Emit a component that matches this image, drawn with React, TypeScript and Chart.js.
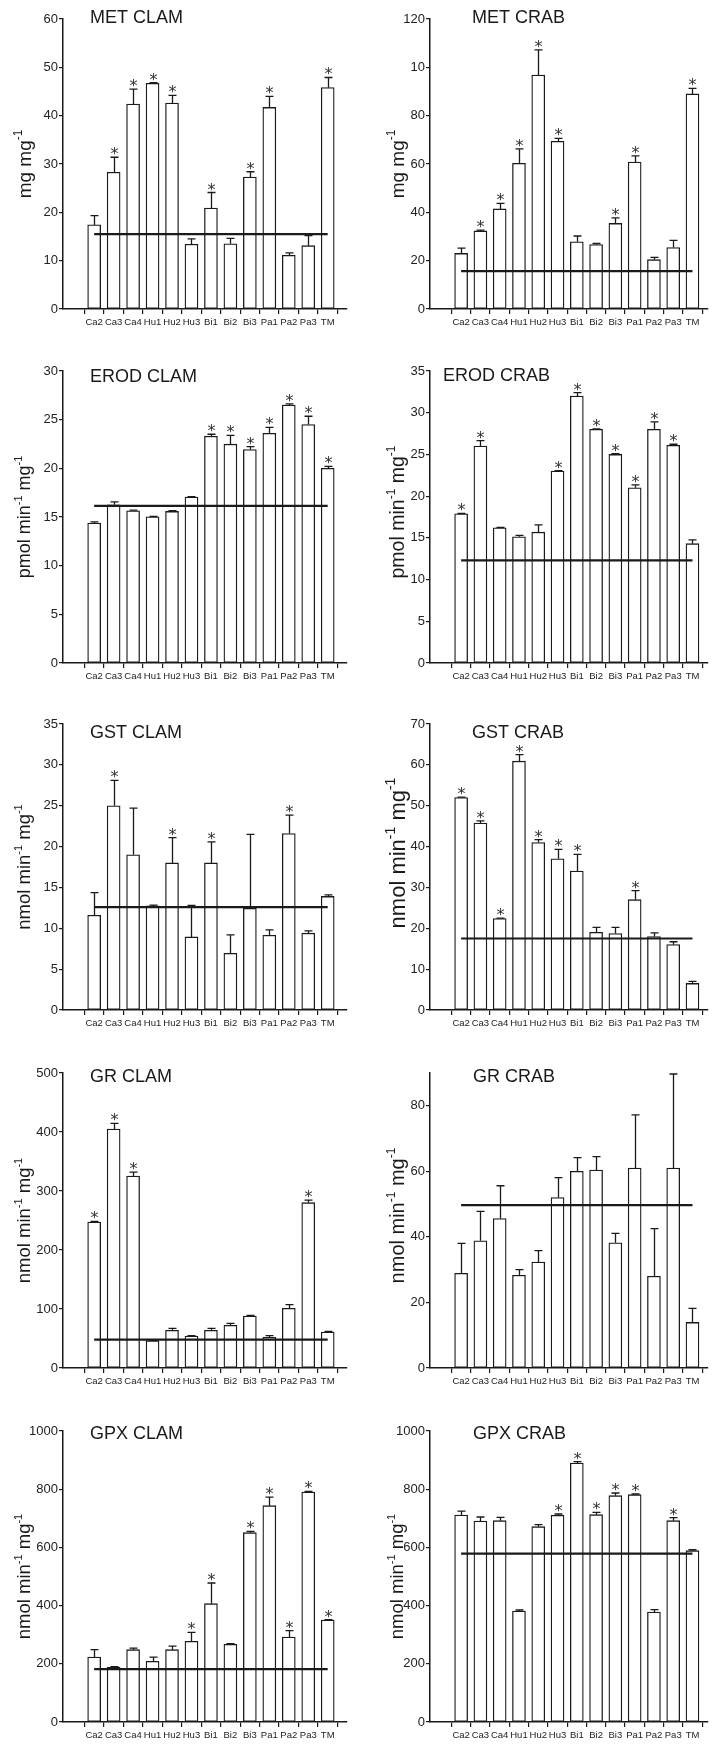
import React, { useEffect, useRef } from "react";
import { Chart, registerables } from "chart.js";

Chart.register(...registerables);

const categories = ["Ca2", "Ca3", "Ca4", "Hu1", "Hu2", "Hu3", "Bi1", "Bi2", "Bi3", "Pa1", "Pa2", "Pa3", "TM"];

// MET CLAM
const metClamMean = [17.4, 28.3, 42.4, 46.7, 42.6, 13.4, 20.9, 13.5, 27.3, 41.7, 11.1, 13.1, 45.8];
const metClamErr = [1.9, 3.1, 3.1, 0.15, 1.6, 1.1, 3.2, 1.1, 1.1, 2.3, 0.5, 2.1, 2.1];
const metClamSig = [0, 1, 1, 1, 1, 0, 1, 0, 1, 1, 0, 0, 1];
const metClamRef = 15.5;
const metClamTicks = [0, 10, 20, 30, 40, 50, 60];
const metClamTickLabels = ["0", "10", "20", "30", "40", "50", "60"];

// MET CRAB
const metCrabMean = [23.0, 32.3, 41.4, 60.3, 96.8, 69.4, 27.8, 26.7, 35.4, 60.8, 20.4, 25.4, 89.0];
const metCrabErr = [2.2, 0.3, 2.3, 6.0, 10.4, 1.2, 2.4, 0.4, 2.3, 2.6, 1.0, 3.0, 2.3];
const metCrabSig = [0, 1, 1, 1, 1, 1, 0, 0, 1, 1, 0, 0, 1];
const metCrabRef = 15.7;
const metCrabTicks = [0, 20, 40, 60, 80, 100, 120];
const metCrabTickLabels = ["0", "20", "40", "60", "80", "10", "120"];

// EROD CLAM
const erodClamMean = [14.37, 16.25, 15.63, 15.02, 15.57, 17.04, 23.3, 22.48, 21.93, 23.6, 26.5, 24.5, 20.0];
const erodClamErr = [0.13, 0.3, 0.07, 0.05, 0.08, 0.04, 0.2, 0.9, 0.3, 0.6, 0.12, 0.85, 0.2];
const erodClamSig = [0, 0, 0, 0, 0, 0, 1, 1, 1, 1, 1, 1, 1];
const erodClamRef = 16.15;
const erodClamTicks = [0, 5, 10, 15, 20, 25, 30];
const erodClamTickLabels = ["0", "5", "10", "15", "20", "25", "30"];

// EROD CRAB
const erodCrabMean = [17.88, 26.0, 16.2, 15.12, 15.68, 23.0, 32.0, 28.0, 25.0, 21.0, 28.0, 26.1, 14.3];
const erodCrabErr = [0.05, 0.65, 0.05, 0.18, 0.88, 0.05, 0.4, 0.05, 0.08, 0.35, 0.9, 0.12, 0.46];
const erodCrabSig = [1, 1, 0, 0, 0, 1, 1, 1, 1, 1, 1, 1, 0];
const erodCrabRef = 12.3;
const erodCrabTicks = [0, 5, 10, 15, 20, 25, 30, 35];
const erodCrabTickLabels = ["0", "5", "10", "15", "20", "25", "30", "35"];

// GST CLAM
const gstClamMean = [11.6, 25.0, 19.0, 12.74, 18.0, 8.94, 18.0, 6.94, 12.45, 9.15, 21.6, 9.4, 13.9];
const gstClamErr = [2.77, 3.1, 5.7, 0.1, 3.1, 3.86, 2.58, 2.25, 9.05, 0.65, 2.25, 0.28, 0.2];
const gstClamSig = [0, 1, 0, 0, 1, 0, 1, 0, 0, 0, 1, 0, 0];
const gstClamRef = 12.6;
const gstClamTicks = [0, 5, 10, 15, 20, 25, 30, 35];
const gstClamTickLabels = ["0", "5", "10", "15", "20", "25", "30", "35"];

// GST CRAB
const gstCrabMean = [52.0, 45.75, 22.4, 60.9, 41.0, 37.0, 34.0, 19.0, 18.7, 27.0, 18.0, 16.0, 6.5];
const gstCrabErr = [0.1, 0.55, 0.1, 1.6, 0.7, 2.3, 4.1, 1.2, 1.5, 2.2, 0.9, 0.7, 0.5];
const gstCrabSig = [1, 1, 1, 1, 1, 1, 1, 0, 0, 1, 0, 0, 0];
const gstCrabRef = 17.5;
const gstCrabTicks = [0, 10, 20, 30, 40, 50, 60, 70];
const gstCrabTickLabels = ["0", "10", "20", "30", "40", "50", "60", "70"];

// GR CLAM
const grClamMean = [247.5, 405, 325.4, 46.3, 63.8, 54.2, 63.8, 72.3, 88.1, 52.0, 101.1, 280.2, 61.0];
const grClamErr = [1, 9.7, 6.6, 0.6, 3.4, 0.6, 3.4, 3.4, 1.2, 2.8, 6.2, 4.5, 1.1];
const grClamSig = [1, 1, 1, 0, 0, 0, 0, 0, 0, 0, 0, 1, 0];
const grClamRef = 48;
const grClamTicks = [0, 100, 200, 300, 400, 500];
const grClamTickLabels = ["0", "100", "200", "300", "400", "500"];

// GR CRAB
const grCrabMean = [28.9, 38.8, 45.6, 28.3, 32.3, 52.0, 60.0, 60.4, 38.2, 61.0, 28.0, 61.0, 13.9];
const grCrabErr = [9.1, 9.0, 10.0, 1.7, 3.5, 6.1, 4.2, 4.1, 2.9, 16.2, 14.5, 28.7, 4.3];
const grCrabSig = [0, 0, 0, 0, 0, 0, 0, 0, 0, 0, 0, 0, 0];
const grCrabRef = 49.7;
const grCrabTicks = [0, 20, 40, 60, 80];
const grCrabTickLabels = ["0", "20", "40", "60", "80"];

// GPX CLAM
const gpxClamMean = [223, 187.9, 248.6, 208.5, 248.6, 277, 406.6, 267, 650.6, 743.4, 292, 790.4, 350.5];
const gpxClamErr = [25.6, 2.1, 5.4, 14.5, 12.4, 31, 71, 2, 4.4, 29.6, 21.9, 2, 1.1];
const gpxClamSig = [0, 0, 0, 0, 0, 1, 1, 0, 1, 1, 1, 1, 1];
const gpxClamRef = 182;
const gpxClamTicks = [0, 200, 400, 600, 800, 1000];
const gpxClamTickLabels = ["0", "200", "400", "600", "800", "1000"];

// GPX CRAB
const gpxCrabMean = [711.3, 690.7, 691.9, 381.4, 671.2, 710.2, 890, 712.5, 777.8, 781.2, 378, 691.9, 588.8];
const gpxCrabErr = [13.7, 13.8, 11.1, 3.5, 6.8, 4.6, 4.6, 8, 9.2, 2.3, 8, 10.1, 3.2];
const gpxCrabSig = [0, 0, 0, 0, 0, 1, 1, 1, 1, 1, 0, 1, 0];
const gpxCrabRef = 578.5;
const gpxCrabTicks = [0, 200, 400, 600, 800, 1000];
const gpxCrabTickLabels = ["0", "200", "400", "600", "800", "1000"];

type Panel = {
  title: string;
  unit: string;
  mean: number[];
  err: number[];
  sig: number[];
  ref: number;
  ticks: number[];
  tickLabels: string[];
  max: number;
  col: number;
  top: number;
  bottom: number;
  titleDx: number;
  titleDy: number;
  unitSize: number;
  unitDy: number;
};

const UNIT_MET = "mg mg^{-1}";
const UNIT_PMOL = "pmol min^{-1} mg^{-1}";
const UNIT_NMOL = "nmol min^{-1} mg^{-1}";

const panels: Panel[] = [
  { title: "MET CLAM", unit: UNIT_MET, mean: metClamMean, err: metClamErr, sig: metClamSig, ref: metClamRef, ticks: metClamTicks, tickLabels: metClamTickLabels, max: 60, col: 0, top: 19, bottom: 309, titleDx: 27, titleDy: 4, unitSize: 19, unitDy: 0 },
  { title: "MET CRAB", unit: UNIT_MET, mean: metCrabMean, err: metCrabErr, sig: metCrabSig, ref: metCrabRef, ticks: metCrabTicks, tickLabels: metCrabTickLabels, max: 120, col: 1, top: 19, bottom: 309, titleDx: 42, titleDy: 4, unitSize: 19, unitDy: 0 },
  { title: "EROD CLAM", unit: UNIT_PMOL, mean: erodClamMean, err: erodClamErr, sig: erodClamSig, ref: erodClamRef, ticks: erodClamTicks, tickLabels: erodClamTickLabels, max: 30, col: 0, top: 371, bottom: 663, titleDx: 27, titleDy: 11, unitSize: 18, unitDy: 0 },
  { title: "EROD CRAB", unit: UNIT_PMOL, mean: erodCrabMean, err: erodCrabErr, sig: erodCrabSig, ref: erodCrabRef, ticks: erodCrabTicks, tickLabels: erodCrabTickLabels, max: 35, col: 1, top: 371, bottom: 663, titleDx: 13, titleDy: 10, unitSize: 19.5, unitDy: -5 },
  { title: "GST CLAM", unit: UNIT_NMOL, mean: gstClamMean, err: gstClamErr, sig: gstClamSig, ref: gstClamRef, ticks: gstClamTicks, tickLabels: gstClamTickLabels, max: 35, col: 0, top: 724, bottom: 1010, titleDx: 27, titleDy: 14, unitSize: 18.5, unitDy: 0 },
  { title: "GST CRAB", unit: UNIT_NMOL, mean: gstCrabMean, err: gstCrabErr, sig: gstCrabSig, ref: gstCrabRef, ticks: gstCrabTicks, tickLabels: gstCrabTickLabels, max: 70, col: 1, top: 724, bottom: 1010, titleDx: 42, titleDy: 14, unitSize: 22, unitDy: -14 },
  { title: "GR CLAM", unit: UNIT_NMOL, mean: grClamMean, err: grClamErr, sig: grClamSig, ref: grClamRef, ticks: grClamTicks, tickLabels: grClamTickLabels, max: 500, col: 0, top: 1073, bottom: 1368, titleDx: 27, titleDy: 9, unitSize: 18.5, unitDy: 0 },
  { title: "GR CRAB", unit: UNIT_NMOL, mean: grCrabMean, err: grCrabErr, sig: grCrabSig, ref: grCrabRef, ticks: grCrabTicks, tickLabels: grCrabTickLabels, max: 90, col: 1, top: 1073, bottom: 1368, titleDx: 43, titleDy: 9, unitSize: 20, unitDy: -5 },
  { title: "GPX CLAM", unit: UNIT_NMOL, mean: gpxClamMean, err: gpxClamErr, sig: gpxClamSig, ref: gpxClamRef, ticks: gpxClamTicks, tickLabels: gpxClamTickLabels, max: 1000, col: 0, top: 1431, bottom: 1722, titleDx: 27, titleDy: 8, unitSize: 18.5, unitDy: 0 },
  { title: "GPX CRAB", unit: UNIT_NMOL, mean: gpxCrabMean, err: gpxCrabErr, sig: gpxCrabSig, ref: gpxCrabRef, ticks: gpxCrabTicks, tickLabels: gpxCrabTickLabels, max: 1000, col: 1, top: 1431, bottom: 1722, titleDx: 43, titleDy: 8, unitSize: 18.5, unitDy: 0 },
];

const COLS = [
  { canvasLeft: 0, canvasW: 360, plotLeft: 63, plotRight: 347, xMin: -1.04, xMax: 12.43, unitX: 24 },
  { canvasLeft: 360, canvasW: 359, plotLeft: 430, plotRight: 708, xMin: -1.06, xMax: 12.25, unitX: 397 },
];

const PAD_TOP = 12;
const X_H = 24;
const INK = "#1a1a1a";
const SANS = '"Liberation Sans", Arial, Helvetica, sans-serif';

function parseUnit(u: string): { t: string; sup: boolean }[] {
  const out: { t: string; sup: boolean }[] = [];
  const re = /\^\{([^}]*)\}/g;
  let last = 0;
  let m: RegExpExecArray | null;
  while ((m = re.exec(u))) {
    if (m.index > last) out.push({ t: u.slice(last, m.index), sup: false });
    out.push({ t: m[1], sup: true });
    last = m.index + m[0].length;
  }
  if (last < u.length) out.push({ t: u.slice(last), sup: false });
  return out;
}

function overlayPlugin(p: Panel, unitX: number) {
  return {
    id: "overlay",
    afterDatasetsDraw(chart: any) {
      const ctx = chart.ctx as CanvasRenderingContext2D;
      const xs = chart.scales.x;
      const ys = chart.scales.y;
      ctx.save();
      ctx.strokeStyle = INK;
      ctx.lineWidth = 1.3;
      p.mean.forEach((m, i) => {
        const cx = Math.round(xs.getPixelForValue(i)) + 0.5;
        const y0 = ys.getPixelForValue(m);
        const y1 = ys.getPixelForValue(Math.min(m + p.err[i], p.max));
        ctx.beginPath();
        ctx.moveTo(cx, y0);
        ctx.lineTo(cx, y1);
        ctx.moveTo(cx - 4, y1);
        ctx.lineTo(cx + 4, y1);
        ctx.stroke();
        if (p.sig[i]) {
          ctx.fillStyle = "#333";
          ctx.font = '16px "DejaVu Sans", sans-serif';
          ctx.textAlign = "center";
          ctx.textBaseline = "alphabetic";
          ctx.fillText("*", cx, y1 + 2);
        }
      });
      ctx.restore();
    },
    afterDraw(chart: any) {
      const ctx = chart.ctx as CanvasRenderingContext2D;
      const area = chart.chartArea;
      ctx.save();
      ctx.fillStyle = INK;
      ctx.font = `18px ${SANS}`;
      ctx.textAlign = "left";
      ctx.textBaseline = "alphabetic";
      ctx.fillText(p.title, area.left + p.titleDx, area.top + p.titleDy);

      // y axis title with superscripts
      const segs = parseUnit(p.unit);
      const size = p.unitSize;
      const mainFont = `${size}px ${SANS}`;
      const supFont = `${Math.round(size * 0.62)}px ${SANS}`;
      let total = 0;
      const widths: number[] = [];
      segs.forEach((s) => {
        ctx.font = s.sup ? supFont : mainFont;
        const w = ctx.measureText(s.t).width;
        widths.push(w);
        total += w;
      });
      ctx.translate(unitX, (area.top + area.bottom) / 2 + p.unitDy);
      ctx.rotate(-Math.PI / 2);
      let x = -total / 2;
      segs.forEach((s, k) => {
        ctx.font = s.sup ? supFont : mainFont;
        ctx.fillText(s.t, x, s.sup ? size * 0.35 - size * 0.45 : size * 0.35);
        x += widths[k];
      });
      ctx.restore();
    },
  };
}

function PanelChart({ p }: { p: Panel }) {
  const ref = useRef<HTMLCanvasElement>(null);
  const col = COLS[p.col];
  const canvasTop = p.top - PAD_TOP;
  const canvasH = p.bottom - p.top + PAD_TOP + X_H;

  useEffect(() => {
    const canvas = ref.current;
    if (!canvas) return;
    const chart = new Chart(canvas, {
      type: "bar",
      data: {
        datasets: [
          {
            type: "line",
            data: [
              { x: 0, y: p.ref },
              { x: 12, y: p.ref },
            ],
            borderColor: INK,
            borderWidth: 2.2,
            pointRadius: 0,
            order: 0,
          } as any,
          {
            type: "bar",
            data: p.mean.map((v, i) => ({ x: i, y: v })),
            backgroundColor: "#ffffff",
            borderColor: INK,
            borderWidth: 1.3,
            borderSkipped: false,
            barThickness: 13,
            order: 1,
          } as any,
        ],
      },
      options: {
        animation: false,
        responsive: false,
        devicePixelRatio: 1,
        events: [],
        layout: {
          padding: { top: PAD_TOP, left: 0, bottom: 0, right: col.canvasW - (col.plotRight - col.canvasLeft) },
        },
        plugins: { legend: { display: false }, tooltip: { enabled: false } },
        scales: {
          x: {
            type: "linear",
            min: col.xMin,
            max: col.xMax,
            afterBuildTicks: (s: any) => {
              s.ticks = categories.map((_, i) => ({ value: i }));
            },
            afterFit: (s: any) => {
              s.height = X_H;
            },
            grid: { drawOnChartArea: false, drawTicks: true, tickLength: 5, color: INK, lineWidth: 1.2 },
            border: { display: true, color: INK, width: 1.5 },
            ticks: {
              autoSkip: false,
              maxRotation: 0,
              minRotation: 0,
              padding: 3,
              color: "#222",
              font: { family: SANS, size: 9.5 },
              callback: (v: any) => categories[Math.round(Number(v))] ?? "",
            },
          },
          y: {
            type: "linear",
            min: 0,
            max: p.max,
            afterBuildTicks: (s: any) => {
              s.ticks = p.ticks.map((v) => ({ value: v }));
            },
            afterFit: (s: any) => {
              s.width = col.plotLeft - col.canvasLeft;
            },
            grid: { drawOnChartArea: false, drawTicks: true, tickLength: 4, color: INK, lineWidth: 1.2 },
            border: { display: true, color: INK, width: 1.5 },
            ticks: {
              padding: 1,
              color: "#222",
              font: { family: SANS, size: 13 },
              callback: (v: any) => {
                const k = p.ticks.indexOf(Number(v));
                return k >= 0 ? p.tickLabels[k] : "";
              },
            },
          },
        },
      } as any,
      plugins: [overlayPlugin(p, col.unitX - col.canvasLeft)],
    });
    return () => chart.destroy();
  }, []);

  return (
    <canvas
      ref={ref}
      width={col.canvasW}
      height={canvasH}
      style={{ position: "absolute", left: col.canvasLeft, top: canvasTop, width: col.canvasW, height: canvasH }}
    />
  );
}

export default function App() {
  return (
    <div style={{ position: "absolute", left: 0, top: 0, width: 719, height: 1746, overflow: "hidden", background: "#fff" }}>
      {panels.map((p) => (
        <PanelChart key={p.title} p={p} />
      ))}
    </div>
  );
}
